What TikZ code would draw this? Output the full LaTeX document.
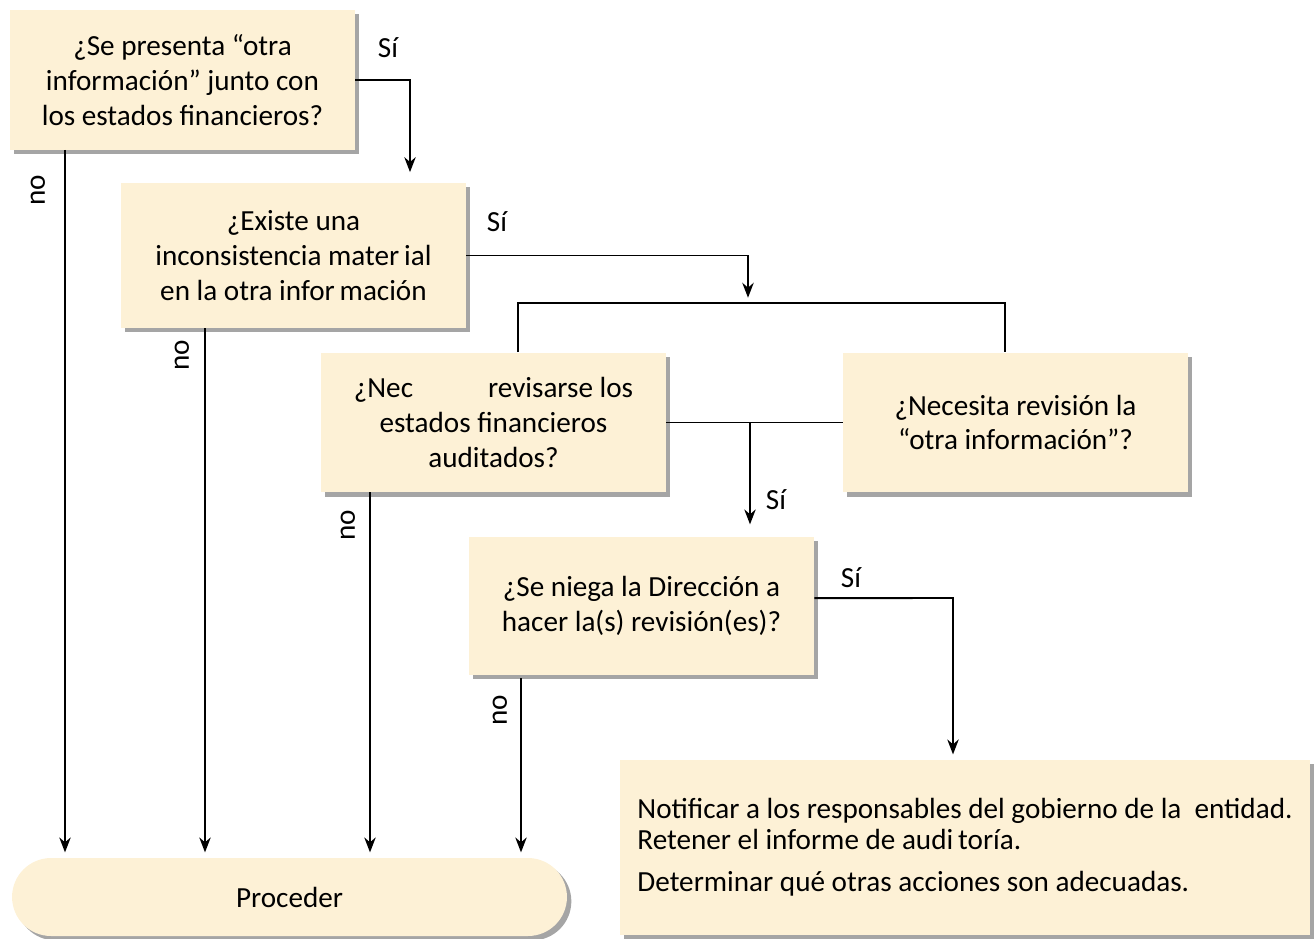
\documentclass[tikz,border=0pt]{standalone}
\usepackage{fontspec}
\setmainfont{Carlito}
\usetikzlibrary{shadows,arrows.meta}
\definecolor{cajafondo}{RGB}{253,241,214}

\begin{document}
\begin{tikzpicture}[x=0.02cm, y=-0.02cm,
    texto/.style={font=\fontsize{16.6}{19.8}\selectfont},
    caja/.style={texto, fill=cajafondo, align=center, inner sep=0pt,
        minimum width=6.9cm, minimum height=2.8cm,
        drop shadow={shadow xshift=2.5pt, shadow yshift=-2.5pt, fill=black!70}},
    flecha/.style={-{Stealth[length=8.5pt,width=6.5pt]}, shorten >=3pt},
    linea/.style={line width=1.1pt}]
    \useasboundingbox (0,0) rectangle (1314,939);

    % Draw the questions
    \node[caja] (q1) at (182.5,80) {¿Se presenta “otra\\información” junto con\\los estados financieros?};
    \node[caja, minimum height=2.9cm] (q2) at (293.5,255.5) {¿Existe una\\inconsistencia mater\,ial\\en la otra infor\,mación};
    \node[caja] (q3) at (493.5,422.5) {¿Nec\hspace{1.5cm}revisarse los\\estados financieros\\auditados?};
    \node[caja] (q4) at (1015.5,422.5) {¿Necesita revisión la\\“otra información”?};
    \node[caja, minimum height=2.76cm] (q5) at (641.5,606) {¿Se niega la Dirección a\\hacer la(s) revisión(es)?};

    % Draw the end boxes
    \node[caja, minimum width=13.8cm, minimum height=3.5cm, align=left] (q6) at (965,847.5)
        {Notificar a los responsables del gobierno de la \ entidad.\\[-2.5pt]
         Retener el informe de audi\,toría.\\[4.5pt]
         Determinar qué otras acciones son adecuadas.};
    \node[caja, minimum width=11.1cm, minimum height=1.56cm, rounded corners=0.78cm] (fin) at (289.5,897) {Proceder};

    % Draw the Sí branches
    \coordinate (c1) at (410,80);
    \draw[linea, flecha, shorten >=6pt] (q1.east) -- (c1) -- (c1 |- q2.north);
    \node[texto] (si1) at (388,48) {Sí};

    \coordinate (c2) at (748,255.5);
    \coordinate (rama) at (748,303);
    \draw[linea, flecha] (q2.east) -- (c2) -- (rama);
    \node[texto] (si2) at (497,222) {Sí};
    \coordinate (barraI) at (518,303);
    \coordinate (barraD) at (1005,303);
    \draw[linea] (barraI |- q3.north) -- (barraI) -- (barraD) -- (barraD |- q4.north);

    \draw[linea] (q3.east) -- (q4.west);
    \coordinate (c3) at (750,422.5);
    \draw[linea, flecha, shorten >=7pt] (c3) -- (c3 |- q5.north);
    \node[texto] (si3) at (776,500) {Sí};

    \coordinate (c5) at (953,598);
    \draw[linea, flecha] ([yshift=4.5pt]q5.east) -- (c5) -- (c5 |- q6.north);
    \node[texto] (si5) at (851,578) {Sí};

    % Draw the no branches
    \coordinate (n1) at (65,150);
    \coordinate (n2) at (205,328);
    \coordinate (n3) at (370,492);
    \coordinate (n5) at (521,678);
    \foreach \n in {n1,n2,n3,n5}
        \draw[linea, flecha] (\n) -- (\n |- fin.north);
    \node[texto, rotate=90] (no1) at (38,190) {no};
    \node[texto, rotate=90] (no2) at (182,355) {no};
    \node[texto, rotate=90] (no3) at (348,525) {no};
    \node[texto, rotate=90] (no5) at (500,710) {no};
\end{tikzpicture}
\end{document}
